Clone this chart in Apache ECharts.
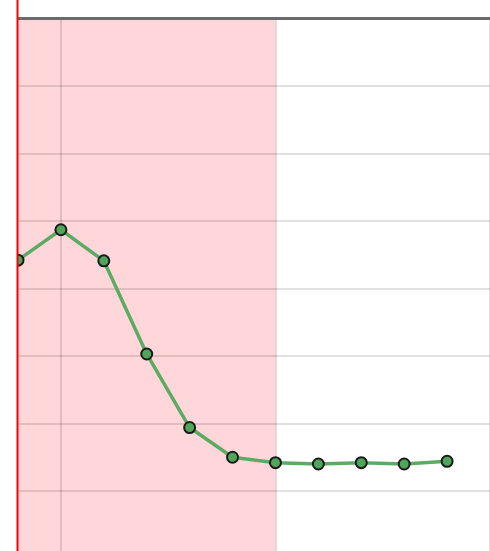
<!DOCTYPE html>
<html>
<head>
<meta charset="utf-8">
<script src="https://cdn.jsdelivr.net/npm/echarts@6/dist/echarts.min.js"></script>
<style>
  html, body { margin: 0; padding: 0; background: #fff; }
  #chart { width: 490px; height: 551px; }
</style>
</head>
<body>
<div id="chart"></div>
<script>
// Sample positions along the x axis (the last one is an empty slot closing the grid)
const categories = ['1', '2', '3', '4', '5', '6', '7', '8', '9', '10', '11', '12'];
// Measured series
const values = [44.2, 48.7, 44.1, 30.3, 19.4, 15.0, 14.2, 14.0, 14.2, 14.0, 14.4, null];
// Highlighted interval, from first to seventh sample
const bandStart = categories[0];
const bandEnd = categories[6];
// Marker position for the red reference line
const markerAt = categories[0];

const chart = echarts.init(document.getElementById('chart'), null, { renderer: 'canvas' });

const gridLine = { color: 'rgba(0, 0, 0, 0.16)', width: 1.5 };

chart.setOption({
  animation: false,
  backgroundColor: '#ffffff',
  grid: {
    left: 18, right: 0, top: 18.5, height: 540,
    containLabel: false,
    outerBoundsMode: 'none'
  },
  xAxis: {
    type: 'category',
    position: 'top',
    data: categories,
    boundaryGap: false,
    z: 2,
    axisLine: { show: true, onZero: false, lineStyle: { color: '#6b6b6b', width: 3 } },
    axisTick: { show: false },
    axisLabel: { show: false },
    splitLine: {
      show: true,
      interval: function (i) { return i % 5 === 1; },
      lineStyle: gridLine
    }
  },
  yAxis: {
    type: 'value',
    min: 0,
    max: 80,
    interval: 10,
    z: 2,
    axisLine: { show: false },
    axisTick: { show: false },
    axisLabel: { show: false },
    splitLine: { show: true, lineStyle: gridLine }
  },
  series: [
    {
      // shaded band, kept beneath the grid lines
      type: 'line',
      data: [],
      z: 1,
      silent: true,
      markArea: {
        silent: true,
        itemStyle: { color: 'rgba(255, 170, 176, 0.48)' },
        data: [[{ xAxis: bandStart }, { xAxis: bandEnd }]]
      }
    },
    {
      type: 'line',
      data: values,
      clip: true,
      symbol: 'circle',
      symbolSize: 11,
      lineStyle: { color: '#5cab65', width: 3.5 },
      itemStyle: { color: '#4fa65a', borderColor: '#1a1a1a', borderWidth: 2 },
      z: 3
    }
  ]
});

// Red reference line through the full height, positioned from the x scale;
// everything left of it is masked so the plot ends at the line.
const mx = chart.convertToPixel({ xAxisIndex: 0 }, markerAt);
chart.setOption({
  graphic: [
    {
      type: 'rect',
      z: 99,
      silent: true,
      shape: { x: 0, y: 0, width: mx - 1, height: 551 },
      style: { fill: '#ffffff' }
    },
    {
      type: 'line',
      z: 100,
      silent: true,
      shape: { x1: mx - 0.5, y1: 0, x2: mx - 0.5, y2: 551 },
      style: { stroke: '#ff0000', lineWidth: 2 }
    }
  ]
});
</script>
</body>
</html>
